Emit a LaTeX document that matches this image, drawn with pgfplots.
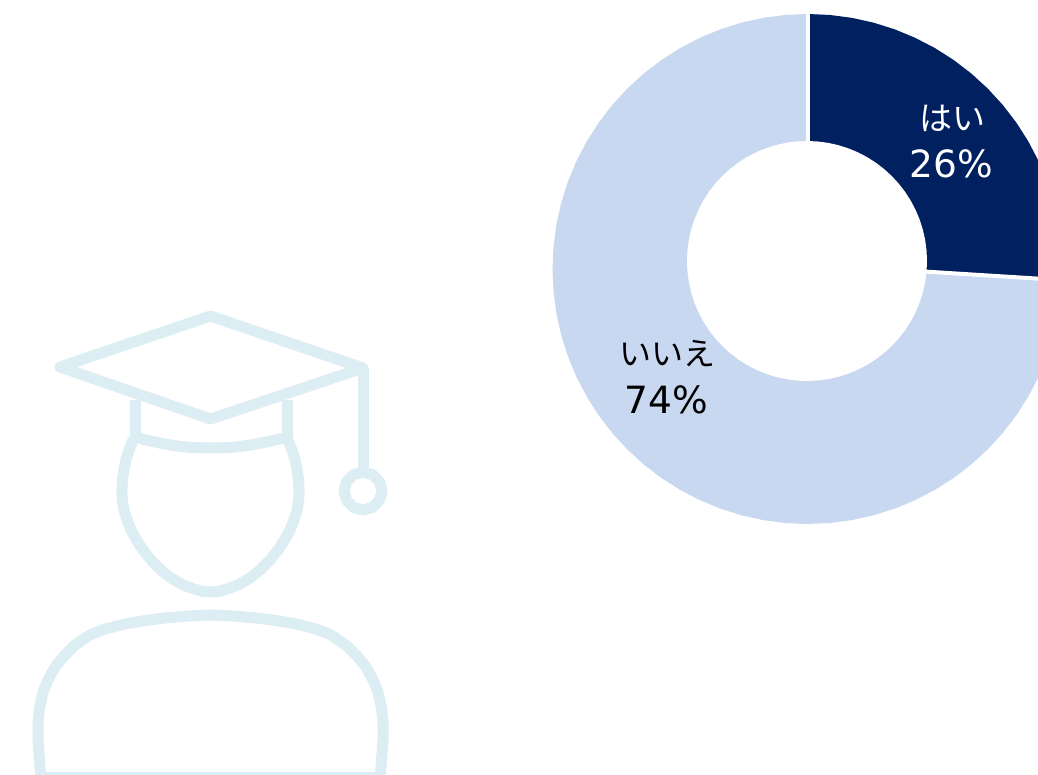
\documentclass[border=0pt]{standalone}
\usepackage{fontspec}
\setmainfont{DejaVu Sans}
\newfontfamily\jpfont{Noto Sans CJK JP}
\usepackage{pgfplots}
\usepgfplotslibrary{polar}
\pgfplotsset{compat=1.18}
\definecolor{yesblue}{HTML}{002060}
\definecolor{nolight}{HTML}{C7D8F0}
\definecolor{iconblue}{HTML}{DCEDF3}
\begin{document}
\begin{tikzpicture}
\useasboundingbox (0,0) rectangle (1038pt,775pt);
\clip (0,0) rectangle (1038pt,775pt);
% Outer disc of the doughnut: "no" ring with the "yes" wedge on top
\begin{polaraxis}[
  at={(807.5pt,506pt)}, anchor=center,
  width=510pt, height=510pt, scale only axis,
  xmin=0, xmax=360, ymin=0, ymax=255,
  axis lines=none, clip=false]
\addplot[fill=nolight, draw=none] coordinates {
 (0,255)(5,255)(10,255)(15,255)(20,255)(25,255)(30,255)(35,255)(40,255)
 (45,255)(50,255)(55,255)(60,255)(65,255)(70,255)(75,255)(80,255)(85,255)
 (90,255)(95,255)(100,255)(105,255)(110,255)(115,255)(120,255)(125,255)
 (130,255)(135,255)(140,255)(145,255)(150,255)(155,255)(160,255)(165,255)
 (170,255)(175,255)(180,255)(185,255)(190,255)(195,255)(200,255)(205,255)
 (210,255)(215,255)(220,255)(225,255)(230,255)(235,255)(240,255)(245,255)
 (250,255)(255,255)(260,255)(265,255)(270,255)(275,255)(280,255)(285,255)
 (290,255)(295,255)(300,255)(305,255)(310,255)(315,255)(320,255)(325,255)
 (330,255)(335,255)(340,255)(345,255)(350,255)(355,255)(360,255)};
\addplot[fill=yesblue, draw=none] coordinates {
 (90,4.8)(90,255)(85,255)(80,255)(75,255)(70,255)(65,255)(60,255)(55,255)
 (50,255)(45,255)(40,255)(35,255)(30,255)(25,255)(20,255)(15,255)(10,255)
 (5,255)(0,255)(-2.52,255)(90,4.8)};
% White gaps between the two segments
\addplot[white, line width=4pt] coordinates {(90,4.8)(90,258)};
\addplot[white, line width=4pt] coordinates {(90,4.8)(-2.52,258)};
\end{polaraxis}
% Doughnut hole
\begin{polaraxis}[
  at={(807pt,514pt)}, anchor=center,
  width=240pt, height=240pt, scale only axis,
  xmin=0, xmax=360, ymin=0, ymax=120,
  axis lines=none, clip=false]
\addplot[fill=white, draw=none] coordinates {
 (0,120)(5,120)(10,120)(15,120)(20,120)(25,120)(30,120)(35,120)(40,120)
 (45,120)(50,120)(55,120)(60,120)(65,120)(70,120)(75,120)(80,120)(85,120)
 (90,120)(95,120)(100,120)(105,120)(110,120)(115,120)(120,120)(125,120)
 (130,120)(135,120)(140,120)(145,120)(150,120)(155,120)(160,120)(165,120)
 (170,120)(175,120)(180,120)(185,120)(190,120)(195,120)(200,120)(205,120)
 (210,120)(215,120)(220,120)(225,120)(230,120)(235,120)(240,120)(245,120)
 (250,120)(255,120)(260,120)(265,120)(270,120)(275,120)(280,120)(285,120)
 (290,120)(295,120)(300,120)(305,120)(310,120)(315,120)(320,120)(325,120)
 (330,120)(335,120)(340,120)(345,120)(350,120)(355,120)(360,120)};
\end{polaraxis}
% Graduate icon and segment labels, in a full-page frame
\begin{axis}[
  at={(0pt,0pt)}, anchor=south west,
  width=1038pt, height=775pt, scale only axis,
  xmin=0, xmax=1038, ymin=0, ymax=775, y dir=reverse,
  axis lines=none, clip=true]
\pgfplotsset{icon/.style={iconblue, line width=11pt, line join=round, line cap=round}}
% mortarboard
\addplot[icon] coordinates {(210.5,316)(60,367)(210.5,419)(363,368)(210.5,316)};
% tassel cord and ring
\addplot[icon, line cap=butt] coordinates {(363,368)(363,470)};
\addplot[icon] coordinates {
 (382,491)(379.45,500.5)(372.5,507.45)(363,510)(353.5,507.45)(346.55,500.5)
 (344,491)(346.55,481.5)(353.5,474.55)(363,472)(372.5,474.55)(379.45,481.5)(382,491)};
% band
\addplot[icon, line cap=butt] coordinates {(135,400)(135,438)};
\addplot[icon, line cap=butt] coordinates {(287.5,400)(287.5,438)};
\addplot[icon] coordinates {
 (135,437)(150,441)(170,445)(190,447.5)(210.5,448)(231,447.5)(251,445)(271,441)(287.5,437)};
% head
\addplot[icon] coordinates {
 (133,440)(129,450)(126,460)(123.8,470)(122.5,480)(121.9,490)(122.3,500)(124,510)
 (127,520)(131,530)(136.5,540)(143,550)(151,560)(161,570)(171,578)(183,585)
 (194,589)(203,591.5)(210.5,592)(218,591.5)(227,589)(238,585)(250,578)(260,570)
 (270,560)(278,550)(284.5,540)(290,530)(294,520)(297,510)(298.7,500)(299.1,490)
 (298.5,480)(297.2,470)(295,460)(292,450)(288,440)};
% shoulders
\addplot[icon] coordinates {
 (41,780)(39.5,760)(38,740)(38,723)(39.5,708)(43,692)(48,680)(55,667)(64,656)
 (75,645)(90,635)(105,629)(125,624)(145,620.5)(165,618)(188,616)(210.5,615)
 (233,616)(256,618)(276,620.5)(296,624)(316,629)(331,635)(346,645)(357,656)
 (366,667)(373,680)(378,692)(381.5,708)(383,723)(383,740)(381.5,760)(380,780)};
\addplot[icon] coordinates {(41,777)(380,777)};
% labels
\node[text=white, font=\jpfont\fontsize{33}{33}\selectfont] at (axis cs:952,118) {はい};
\node[text=white, font=\fontsize{37.5}{37.5}\selectfont] at (axis cs:951.5,164) {26\%};
\node[text=black, font=\jpfont\fontsize{32}{32}\selectfont] at (axis cs:667,354) {いいえ};
\node[text=black, font=\fontsize{37.5}{37.5}\selectfont] at (axis cs:666.5,400) {74\%};
\end{axis}
\end{tikzpicture}
\end{document}
